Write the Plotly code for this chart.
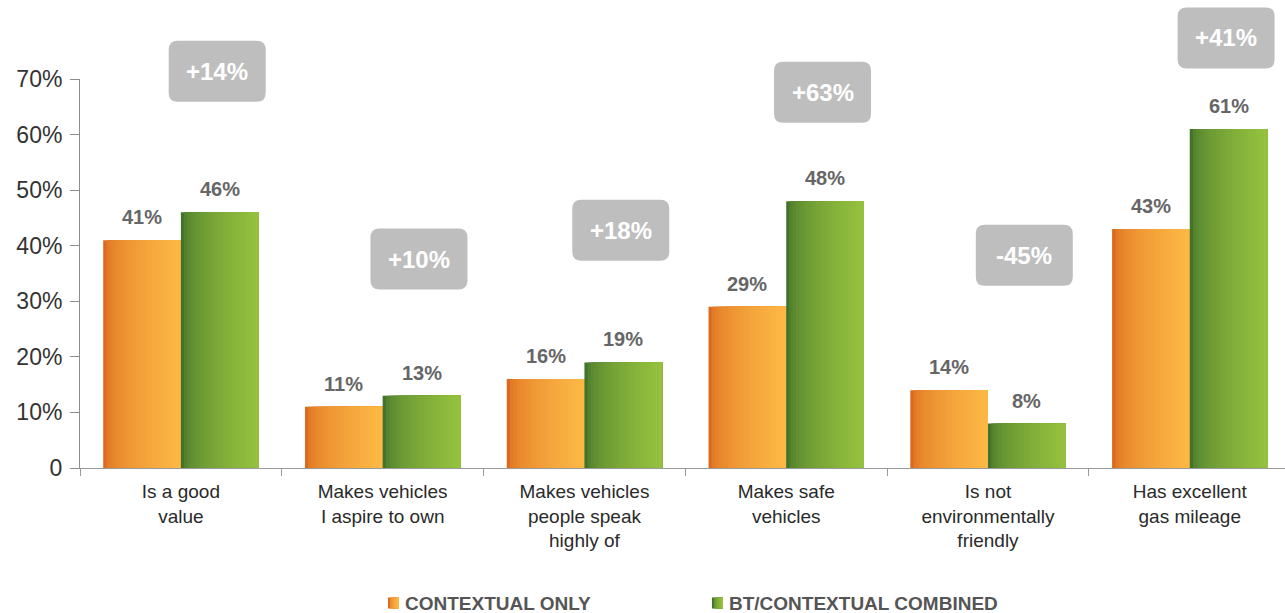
import plotly.graph_objects as go

# ---- data ----
categories = [
    "Is a good<br>value",
    "Makes vehicles<br>I aspire to own",
    "Makes vehicles<br>people speak<br>highly of",
    "Makes safe<br>vehicles",
    "Is not<br>environmentally<br>friendly",
    "Has excellent<br>gas mileage",
]
contextual_only = [41, 11, 16, 29, 14, 43]
bt_combined = [46, 13, 19, 48, 8, 61]
lift_labels = ["+14%", "+10%", "+18%", "+63%", "-45%", "+41%"]
lift_badge_y = [71.4, 37.6, 42.8, 67.6, 38.3, 77.4]
y_tick_vals = [0, 10, 20, 30, 40, 50, 60, 70]
y_tick_text = ["0", "10%", "20%", "30%", "40%", "50%", "60%", "70%"]
series_names = ["CONTEXTUAL ONLY", "BT/CONTEXTUAL COMBINED"]

# ---- styling ----
FONT = "Liberation Sans, Arial, sans-serif"
BAR_W = 0.385
N_STRIPS = 24
X_RANGE = [-0.5, 5.472]
Y_RANGE = [0, 70]
W, H = 1285, 613
M_L, M_R, M_T, M_B = 80, 0, 79, 145
PLOT_W = W - M_L - M_R
PLOT_H = H - M_T - M_B

gradients = [
    ("#dc6a1e", "#fcb845"),  # orange
    ("#43732a", "#95c13e"),  # green
]


def hex_to_rgb(h):
    h = h.lstrip("#")
    return tuple(int(h[i:i + 2], 16) for i in (0, 2, 4))


def lerp_color(c1, c2, t):
    a, b = hex_to_rgb(c1), hex_to_rgb(c2)
    r = [round(a[i] + (b[i] - a[i]) * t) for i in range(3)]
    return f"rgb({r[0]},{r[1]},{r[2]})"


fig = go.Figure()

# Bars are drawn as overlapping strips so each one carries a left-to-right gradient
# (darker edge on the left, brightening quickly towards the right).
for s_idx, (vals, (c_left, c_right)) in enumerate(
        zip([contextual_only, bt_combined], gradients)):
    start = -BAR_W if s_idx == 0 else 0.0
    for k in range(N_STRIPS):
        t = (k / (N_STRIPS - 1)) ** 0.5
        off = start + k * BAR_W / N_STRIPS
        fig.add_trace(go.Bar(
            x=categories,
            y=vals,
            offset=off,
            width=BAR_W - k * BAR_W / N_STRIPS,
            marker=dict(color=lerp_color(c_left, c_right, t), line=dict(width=0)),
            showlegend=False,
            hoverinfo="skip",
        ))

# Value labels above each bar
annotations = []
for s_idx, vals in enumerate([contextual_only, bt_combined]):
    shift = -BAR_W / 2 if s_idx == 0 else BAR_W / 2
    for i, v in enumerate(vals):
        annotations.append(dict(
            x=i + shift, y=v, xref="x", yref="y",
            text=f"<b>{v}%</b>", showarrow=False,
            yanchor="bottom", yshift=10,
            font=dict(family=FONT, size=20, color="#666666"),
        ))


def to_paper_x(x):
    return (x - X_RANGE[0]) / (X_RANGE[1] - X_RANGE[0])


def to_paper_y(y):
    return (y - Y_RANGE[0]) / (Y_RANGE[1] - Y_RANGE[0])


# Rounded grey badges with the lift between the two series
BADGE_W_PX, BADGE_H_PX, RAD_PX = 97, 61, 9
BADGE_DX = 0.18
shapes = []
for i, (lab, by) in enumerate(zip(lift_labels, lift_badge_y)):
    cx, cy = to_paper_x(i + BADGE_DX), to_paper_y(by)
    hw, hh = BADGE_W_PX / 2 / PLOT_W, BADGE_H_PX / 2 / PLOT_H
    rx, ry = RAD_PX / PLOT_W, RAD_PX / PLOT_H
    x0, x1, y0, y1 = cx - hw, cx + hw, cy - hh, cy + hh
    path = (
        f"M {x0 + rx},{y0} L {x1 - rx},{y0} Q {x1},{y0} {x1},{y0 + ry} "
        f"L {x1},{y1 - ry} Q {x1},{y1} {x1 - rx},{y1} "
        f"L {x0 + rx},{y1} Q {x0},{y1} {x0},{y1 - ry} "
        f"L {x0},{y0 + ry} Q {x0},{y0} {x0 + rx},{y0} Z"
    )
    shapes.append(dict(type="path", path=path, xref="paper", yref="paper",
                       fillcolor="#bebebe", line=dict(width=0), layer="above"))
    annotations.append(dict(
        x=cx, y=cy, xref="paper", yref="paper", text=f"<b>{lab}</b>",
        showarrow=False, xanchor="center", yanchor="middle",
        font=dict(family=FONT, size=24, color="white"),
    ))

# Legend row under the chart: small swatch followed by the series name
LEG_SWATCH_X = [388, 712]
LEG_Y = 603
SW = 11
for (c_left, c_right), name, sx in zip(gradients, series_names, LEG_SWATCH_X):
    n = 6
    for k in range(n):
        px0 = sx + k * SW / n
        shapes.append(dict(
            type="rect", xref="paper", yref="paper",
            x0=(px0 - M_L) / PLOT_W, x1=(sx + SW - M_L) / PLOT_W,
            y0=(H - M_B - (LEG_Y + SW / 2)) / PLOT_H,
            y1=(H - M_B - (LEG_Y - SW / 2)) / PLOT_H,
            fillcolor=lerp_color(c_left, c_right, (k / (n - 1)) ** 0.5),
            line=dict(width=0),
        ))
    annotations.append(dict(
        x=(sx + SW + 4 - M_L) / PLOT_W, y=(H - M_B - LEG_Y) / PLOT_H,
        xref="paper", yref="paper", xanchor="left", yanchor="middle",
        text=f"<b>{name}</b>", showarrow=False,
        font=dict(family=FONT, size=19, color="#555555"),
    ))

fig.update_layout(
    width=W, height=H,
    margin=dict(l=M_L, r=M_R, t=M_T, b=M_B),
    paper_bgcolor="white", plot_bgcolor="white",
    barmode="overlay",
    font=dict(family=FONT),
    annotations=annotations,
    shapes=shapes,
    showlegend=False,
    xaxis=dict(
        type="category", range=X_RANGE,
        showline=True, linecolor="#9a9a9a", linewidth=1,
        ticks="outside", tickson="boundaries", ticklen=7, tickcolor="#9a9a9a",
        tickfont=dict(family=FONT, size=19, color="#2a2a2a"),
        ticklabelstandoff=6,
        showgrid=False, zeroline=False, fixedrange=True,
    ),
    yaxis=dict(
        range=Y_RANGE, tickvals=y_tick_vals, ticktext=y_tick_text,
        showline=True, linecolor="#8c8c8c", linewidth=1,
        ticks="outside", ticklen=9, tickcolor="#8c8c8c",
        tickfont=dict(family=FONT, size=23, color="#333333"),
        ticklabelstandoff=3,
        showgrid=False, zeroline=False, fixedrange=True,
    ),
)

fig.write_html("out.html")
